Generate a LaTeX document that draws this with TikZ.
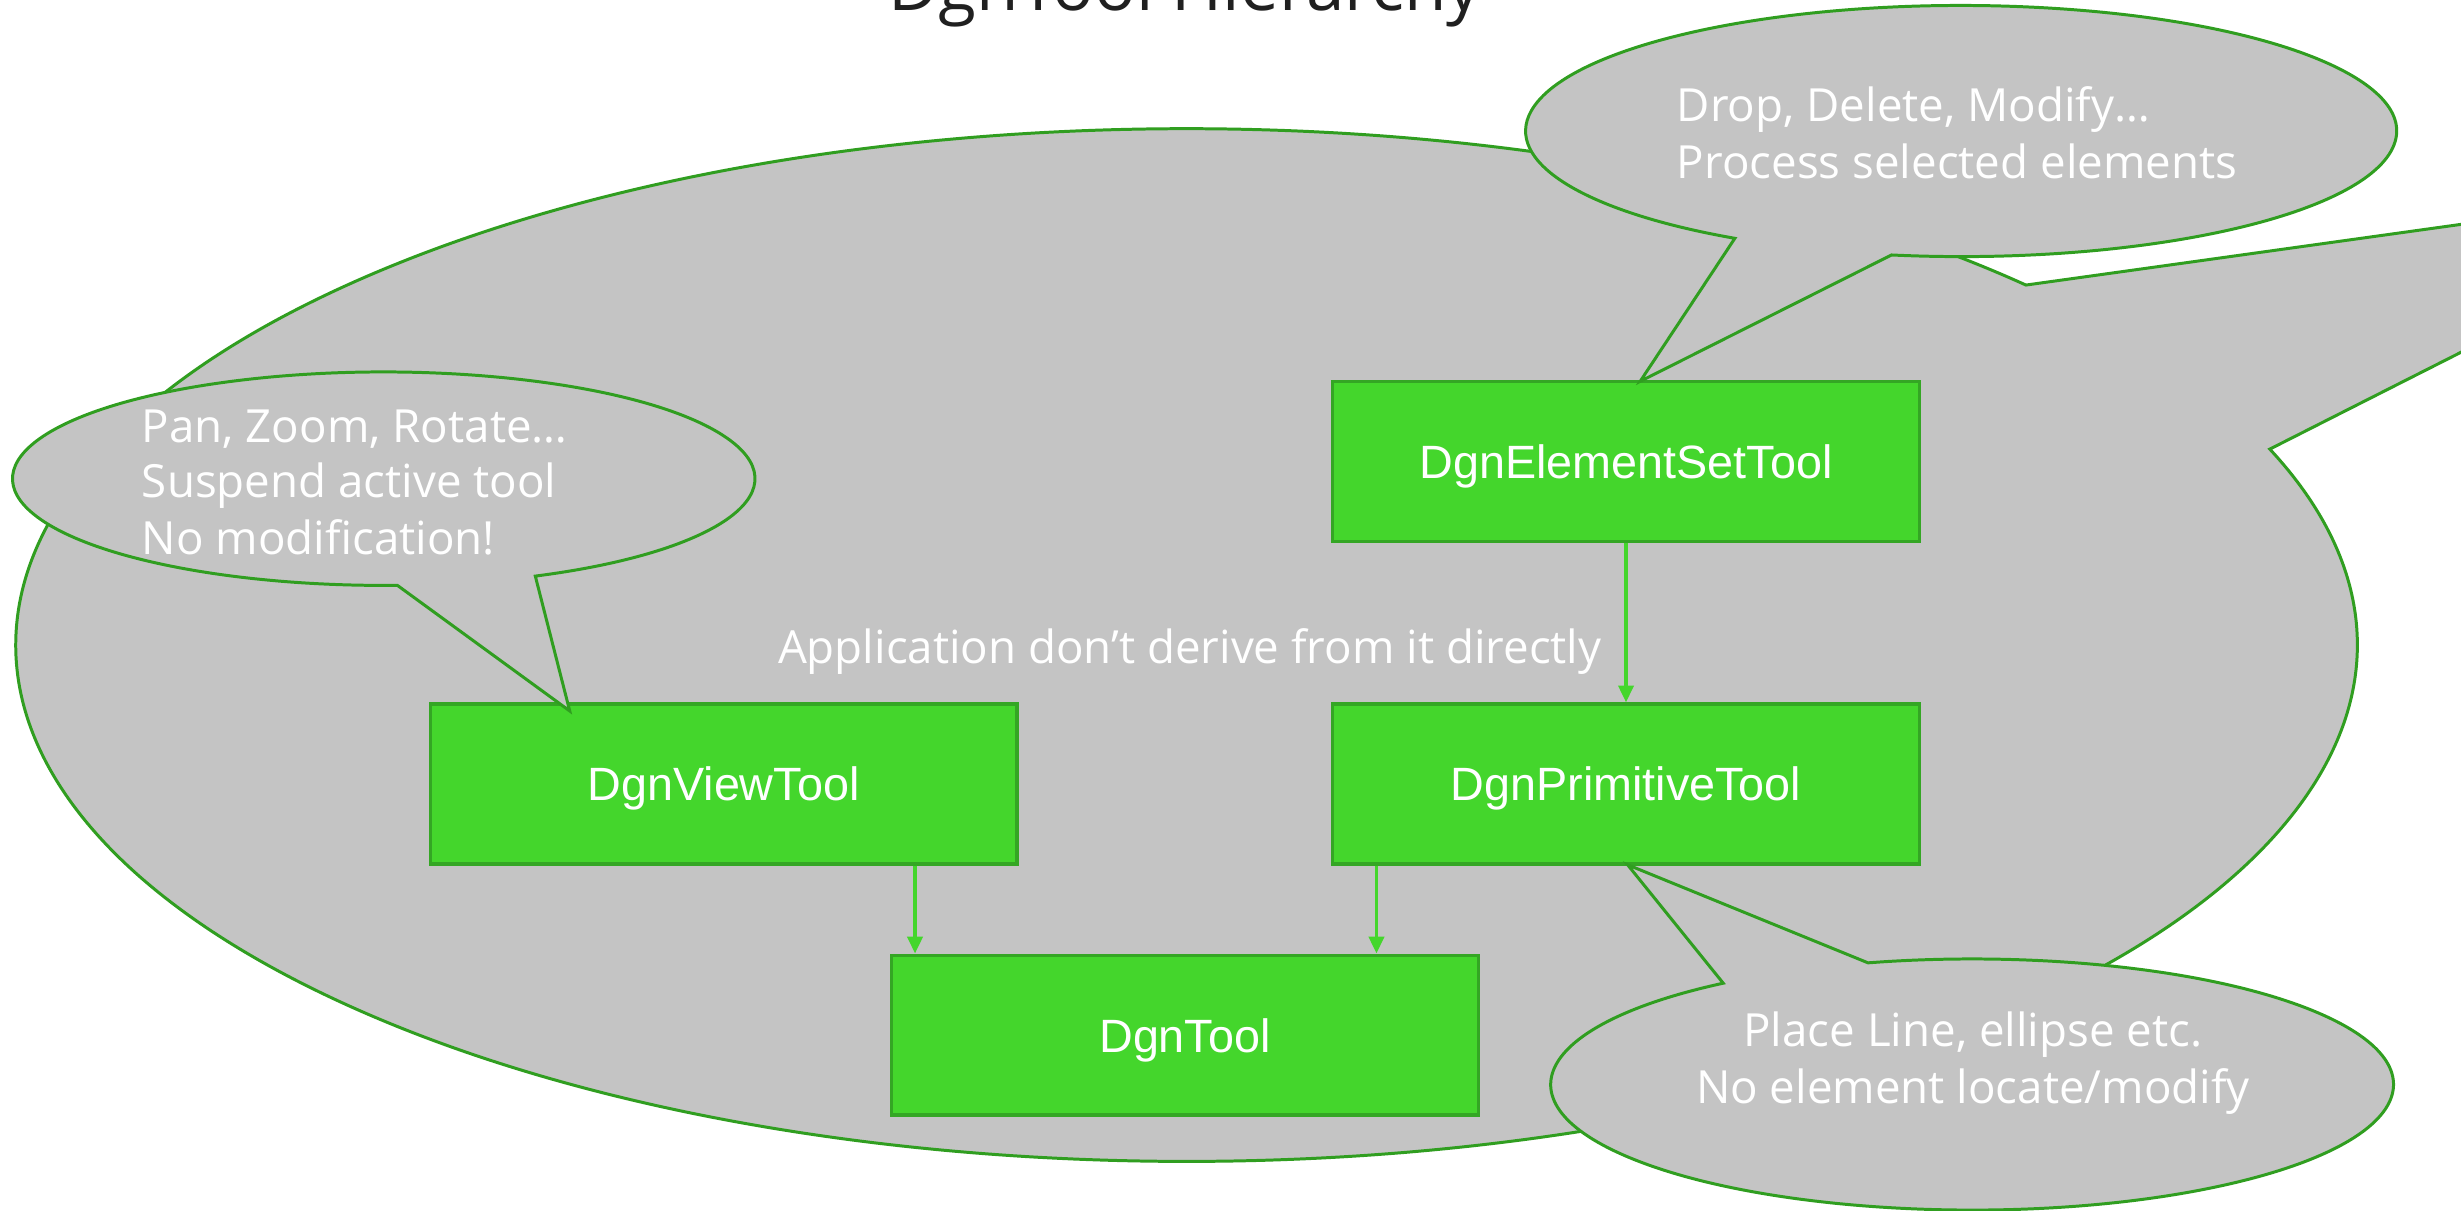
\documentclass[tikz,border=0pt]{standalone}
\usepackage{fontspec}
\setmainfont{Open Sans}
\newfontfamily\boxfont{Liberation Sans}
\usetikzlibrary{arrows.meta}
\definecolor{calfill}{RGB}{196,196,196}
\definecolor{calline}{RGB}{48,158,32}
\definecolor{boxfill}{RGB}{68,214,44}
\definecolor{boxline}{RGB}{52,166,36}
\definecolor{titlecol}{RGB}{32,32,32}
\begin{document}
\begin{tikzpicture}[x=0.015695cm,y=0.015695cm,
  callout/.style={fill=calfill,draw=calline,line width=0.85pt,line join=miter},
  toolbox/.style={draw=boxline,fill=boxfill,line width=0.9pt,minimum width=5.87cm,minimum height=1.60cm,inner sep=0pt,text depth=0pt,text=white,font=\boxfont\fontsize{13.3}{16}\selectfont},
  note/.style={text=white,inner sep=0pt,font=\fontsize{13}{15.6}\selectfont},
  arr/.style={draw=boxfill,line width=1pt,-{Triangle[length=4.8pt,width=4.3pt]}}]
\useasboundingbox (0,0) rectangle (1568,771);
\clip (0,0) rectangle (1568,771);
\fill[white] (0,0) rectangle (1568,771);
% title
\node[anchor=base,text=titlecol,inner sep=0pt,font=\fontsize{19.7}{23}\selectfont] (title) at (755,764.6) {DgnTool Hierarchy};
% big callout
\filldraw[callout] (756,360) ++(44.2:746 and 329) arc[start angle=44.2,end angle=382.3,x radius=746,y radius=329] -- (1790,659) -- cycle;
\node[note,anchor=base] (bigtext) at (758,348.4) {Application don’t derive from it directly};
% boxes
\node[toolbox] (elemset) at (1036,477) {DgnElementSetTool};
\node[toolbox] (prim) at (1036,271.5) {DgnPrimitiveTool};
\node[toolbox] (viewtool) at (461,271.5) {DgnViewTool};
\node[toolbox] (dgntool) at (755,111.5) {DgnTool};
% arrows
\coordinate (a1) at (583,0);
\coordinate (a2) at (877,0);
\draw[arr] (elemset.south) -- (prim.north);
\draw[arr] (viewtool.south -| a1) -- (dgntool.north -| a1);
\draw[arr] (prim.south -| a2) -- (dgntool.north -| a2);
% left callout
\filldraw[callout] (244.5,466) ++(294.1:236.5 and 68) arc[start angle=294.1,end angle=632.1,x radius=236.5,y radius=68] -- (363,318) -- cycle;
\node[note,anchor=base west] (l1) at (90,489) {Pan, Zoom, Rotate…};
\node[note,anchor=base west] (l2) at (90,454) {Suspend active tool};
\node[note,anchor=base west] (l3) at (90,418) {No modification!};
% top callout
\filldraw[callout] (1249.5,687.5) ++(260.8:277.5 and 80) arc[start angle=260.8,end angle=598.7,x radius=277.5,y radius=80] -- (1045,528) -- cycle;
\node[note,anchor=base west] (t1) at (1068,693.5) {Drop, Delete, Modify…};
\node[note,anchor=base west] (t2) at (1068,657.5) {Process selected elements};
% bottom callout
\filldraw[callout] (1256.5,80) ++(126.2:268.5 and 80) arc[start angle=126.2,end angle=464.3,x radius=268.5,y radius=80] -- (1037,220) -- cycle;
\node[note,anchor=base] (b1) at (1257,104.1) {Place Line, ellipse etc.};
\node[note,anchor=base] (b2) at (1257,68) {No element locate/modify};
\end{tikzpicture}
\end{document}
